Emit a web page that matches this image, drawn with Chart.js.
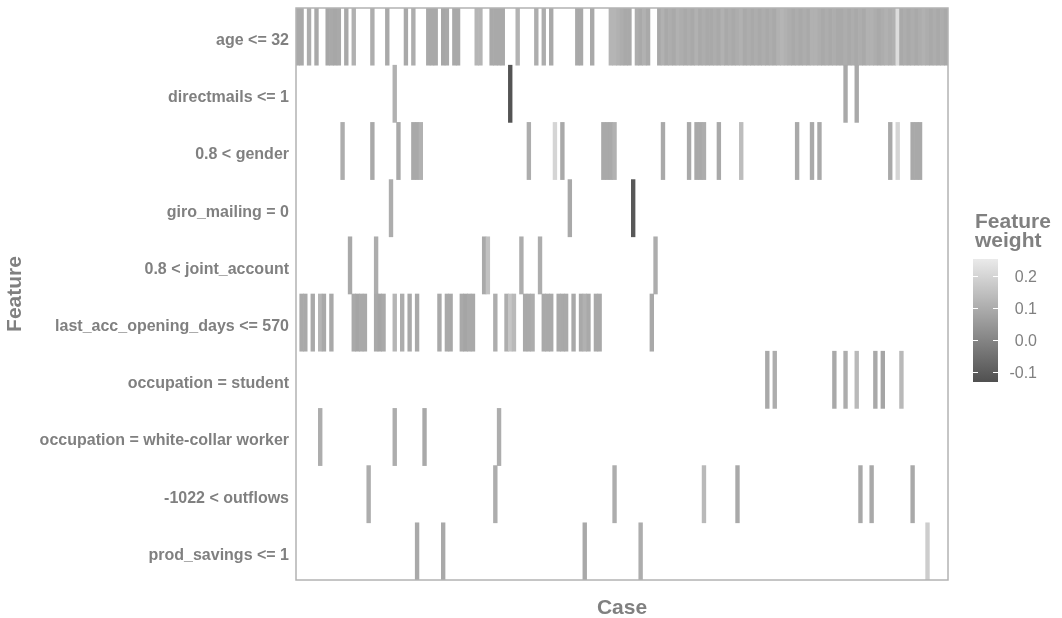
<!DOCTYPE html>
<html>
<head>
<meta charset="utf-8">
<script src="https://cdn.jsdelivr.net/npm/chart.js@4.4.1/dist/chart.umd.min.js"></script>
<style>
  html, body { margin: 0; padding: 0; background: #fff; }
  #wrap { width: 1062px; height: 618px; }
</style>
</head>
<body>
<div id="wrap"><canvas id="heat" width="1062" height="618"></canvas></div>
<script>
// Features, top to bottom
const features = [
    'age <= 32',
    'directmails <= 1',
    '0.8 < gender',
    'giro_mailing = 0',
    '0.8 < joint_account',
    'last_acc_opening_days <= 570',
    'occupation = student',
    'occupation = white-collar worker',
    '-1022 < outflows',
    'prod_savings <= 1'
]
const nCases = 175

// Cases that carry a weight for each feature, with the weight
const ageCases = [0, 1, 3, 5, 8, 9, 10, 11, 13, 15, 20, 24, 29, 31, 35, 36, 37, 39, 40, 42, 43,
    48, 49, 52, 53, 54, 55, 59, 64, 66, 68, 75, 76, 79,
    84, 85, 86, 87, 88, 89, 91, 92, 93, 94,
    97, 98, 99, 100, 101, 102, 103, 104, 105, 106, 107, 108, 109, 110, 111, 112, 113, 114, 115, 116,
    117, 118, 119, 120, 121, 122, 123, 124, 125, 126, 127, 128, 129, 130, 131, 132, 133, 134, 135, 136,
    137, 138, 139, 140, 141, 142, 143, 144, 145, 146, 147, 148, 149, 150, 151, 152, 153, 154, 155, 156,
    157, 158, 159, 160, 161, 162, 163, 164, 165, 166, 167, 168, 169, 170, 171, 172, 173, 174]
const ageWeights = [.09, .09, .10, .09, .085, .09, .085, .09, .09, .11, .10, .09, .09, .10, .09, .09, .09, .085, .09, .09, .09,
    .12, .12, .09, .09, .09, .09, .115, .10, .10, .09, .09, .09, .09,
    .12, .12, .11, .10, .09, .09, .10, .09, .11, .09,
    .09, .11, .09, .10, .09, .11, .10, .09, .10, .09, .11, .09, .10, .09, .09, .10, .09, .11, .09, .10,
    .09, .10, .11, .09, .10, .09, .10, .09, .10, .09, .10, .09, .11, .12, .11, .10, .09, .10, .09, .10,
    .09, .11, .11, .10, .09, .10, .09, .10, .09, .09, .10, .09, .10, .09, .10, .09, .11, .11, .10, .09,
    .10, .11, .10, .11, .22, .09, .10, .09, .10, .09, .10, .11, .10, .09, .10, .09, .10, .09]

const directmailCases = [26, 57, 147, 150]
const directmailWeights = [.11, -.12, .09, .09]

const genderCases = [12, 20, 27, 31, 32, 33, 62, 69, 71, 82, 83, 84, 85, 98, 105, 107, 108, 109,
    113, 119, 134, 138, 140, 159, 161, 165, 166, 167]
const genderWeights = [.10, .09, .09, .09, .09, .11, .10, .20, .09, .09, .09, .09, .11, .09, .09, .09, .09, .10,
    .09, .14, .09, .09, .09, .09, .20, .09, .09, .09]

const giroCases = [25, 73, 90]
const giroWeights = [.10, .09, -.11]

const jointCases = [14, 21, 50, 51, 60, 65, 96]
const jointWeights = [.09, .10, .09, .15, .10, .10, .10]

const lastAccCases = [1, 2, 4, 6, 7, 9, 15, 16, 17, 18, 21, 22, 23, 26, 28, 30, 32, 38, 40, 41, 44, 45, 46, 47,
    53, 56, 57, 58, 61, 62, 63, 66, 67, 68, 70, 71, 72, 74, 76, 77, 78, 80, 81, 95]
const lastAccWeights = [.09, .09, .09, .12, .09, .09, .09, .08, .09, .09, .09, .08, .09, .12, .10, .09, .09, .09, .09, .09, .09, .08, .09, .09,
    .10, .10, .16, .13, .09, .09, .10, .09, .09, .09, .09, .09, .09, .09, .09, .11, .09, .09, .09, .09]

const studentCases = [126, 128, 144, 147, 150, 155, 157, 162]
const studentWeights = [.09, .10, .09, .10, .13, .09, .08, .13]

const whiteCollarCases = [6, 26, 34, 54]
const whiteCollarWeights = [.10, .10, .09, .10]

const outflowCases = [19, 53, 85, 109, 118, 151, 154, 165]
const outflowWeights = [.10, .10, .10, .13, .09, .09, .09, .09]

const savingsCases = [32, 39, 77, 92, 169]
const savingsWeights = [.09, .09, .09, .10, .18]

// Legend
const legendTicks = [0.2, 0.1, 0.0, -0.1]
const weightMin = -0.131
const weightMax = 0.253

const rows = [
    [ageCases, ageWeights],
    [directmailCases, directmailWeights],
    [genderCases, genderWeights],
    [giroCases, giroWeights],
    [jointCases, jointWeights],
    [lastAccCases, lastAccWeights],
    [studentCases, studentWeights],
    [whiteCollarCases, whiteCollarWeights],
    [outflowCases, outflowWeights],
    [savingsCases, savingsWeights]
]

// grey scale from dark (low weight) to light (high weight)
const grey = w => {
    let t = (w - weightMin) / (weightMax - weightMin)
    t = Math.max(0, Math.min(1, t))
    const g = Math.round(80 + t * (234 - 80))
    return `rgb(${g}, ${g}, ${g})`
}

const cells = []
rows.forEach(([cases, weights], k) => {
    cases.forEach((c, j) => cells.push({x: [c, c + 1], y: features[k], w: weights[j]}))
})

const textGrey = '#808080'
Chart.defaults.font.family = '"Liberation Sans", Arial, sans-serif'

// frame round the panel
const panelBorder = {
    id: 'panelBorder',
    afterDatasetsDraw(chart) {
        const {ctx, chartArea: a} = chart
        ctx.save()
        ctx.strokeStyle = '#b3b3b3'
        ctx.lineWidth = 1.5
        ctx.strokeRect(a.left, a.top, a.right - a.left, a.bottom - a.top)
        ctx.restore()
    }
}

// continuous colour legend on the right
const weightLegend = {
    id: 'weightLegend',
    afterDraw(chart) {
        const ctx = chart.ctx
        const barX = 973, barW = 25, barTop = 259, barBottom = 382
        const yFor = v => barTop + (weightMax - v) / (weightMax - weightMin) * (barBottom - barTop)
        ctx.save()

        ctx.fillStyle = textGrey
        ctx.font = 'bold 21px "Liberation Sans", Arial, sans-serif'
        ctx.textAlign = 'left'
        ctx.textBaseline = 'alphabetic'
        ctx.fillText('Feature', 975, 228)
        ctx.fillText('weight', 975, 247)

        const grad = ctx.createLinearGradient(0, barTop, 0, barBottom)
        grad.addColorStop(0, grey(weightMax))
        grad.addColorStop(1, grey(weightMin))
        ctx.fillStyle = grad
        ctx.fillRect(barX, barTop, barW, barBottom - barTop)

        ctx.strokeStyle = '#ffffff'
        ctx.lineWidth = 1
        ctx.font = '16px "Liberation Sans", Arial, sans-serif'
        ctx.textAlign = 'right'
        ctx.textBaseline = 'middle'
        legendTicks.forEach(v => {
            const y = Math.round(yFor(v)) + 0.5
            ctx.beginPath()
            ctx.moveTo(barX, y); ctx.lineTo(barX + 5, y)
            ctx.moveTo(barX + barW - 5, y); ctx.lineTo(barX + barW, y)
            ctx.stroke()
            ctx.fillStyle = textGrey
            ctx.fillText(v.toFixed(1), 1037, y + 1)
        })
        ctx.restore()
    }
}

new Chart(document.getElementById('heat'), {
    type: 'bar',
    data: {
        labels: features,
        datasets: [{
            data: cells,
            backgroundColor: c => c.raw ? grey(c.raw.w) : '#aaaaaa',
            borderWidth: 0,
            barPercentage: 1,
            categoryPercentage: 1
        }]
    },
    options: {
        indexAxis: 'y',
        responsive: false,
        animation: false,
        layout: {padding: {top: 8, right: 114, left: 0, bottom: 0}},
        plugins: {
            legend: {display: false},
            tooltip: {enabled: false}
        },
        scales: {
            x: {
                type: 'linear',
                min: 0,
                max: nCases,
                ticks: {display: false},
                grid: {display: false, drawTicks: false},
                border: {display: false},
                title: {
                    display: true,
                    text: 'Case',
                    color: textGrey,
                    font: {size: 21, weight: 'bold'},
                    padding: {top: 0, bottom: -3}
                },
                afterFit: s => { s.height = 38 }
            },
            y: {
                ticks: {
                    autoSkip: false,
                    color: textGrey,
                    font: {size: 16, weight: 'bold'},
                    padding: 7,
                    labelOffset: 4
                },
                grid: {display: false, drawTicks: false},
                border: {display: false},
                title: {
                    display: true,
                    text: 'Feature',
                    color: textGrey,
                    font: {size: 21, weight: 'bold'},
                    padding: {top: 3, bottom: 0}
                },
                afterFit: s => {
                    s.width = 296
                    s.paddingTop = 0
                    s.paddingBottom = 0
                }
            }
        }
    },
    plugins: [panelBorder, weightLegend]
})
</script>
</body>
</html>
